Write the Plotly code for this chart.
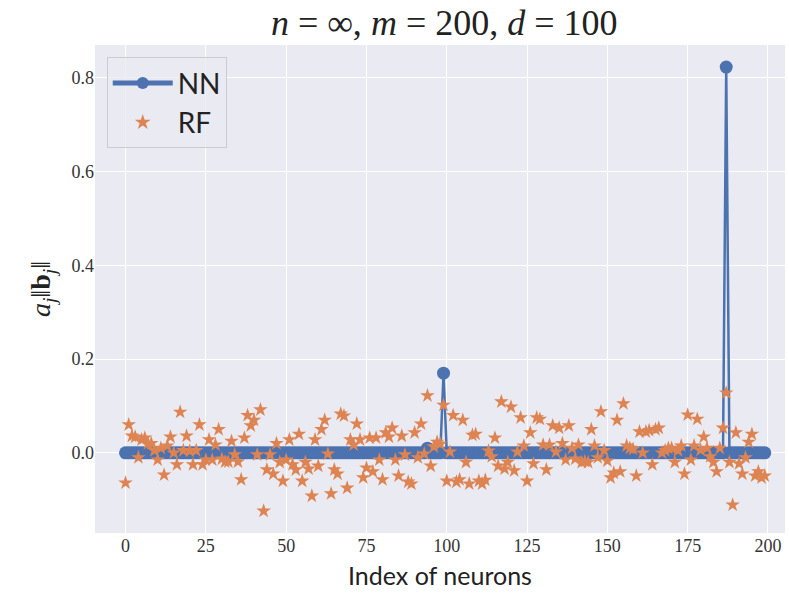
import plotly.graph_objects as go

idx = list(range(200))

nn_vals = [0.0] * 200
nn_vals[94] = 0.010
nn_vals[99] = 0.170
nn_vals[187] = 0.823

rf_vals = [
    -0.064, 0.060, 0.036, 0.034, -0.010, 0.028, 0.032, 0.020, 0.020, 0.005,
    -0.015, 0.010, -0.047, 0.015, 0.034, 0.000, -0.025, 0.087, 0.005, 0.036,
    0.004, -0.025, 0.005, 0.060, -0.025, -0.015, 0.028, -0.015, 0.017, 0.050,
    -0.013, -0.019, -0.019, 0.025, -0.004, -0.019, -0.057, 0.032, 0.080, 0.058,
    0.070, -0.004, 0.092, -0.124, -0.036, -0.004, -0.045, 0.020, -0.020, -0.060,
    -0.015, 0.028, -0.025, -0.036, 0.040, -0.060, -0.020, -0.034, -0.092, 0.028,
    -0.028, 0.050, 0.070, -0.002, -0.087, -0.036, -0.045, 0.083, 0.079, -0.075,
    0.028, 0.017, 0.062, 0.028, -0.053, -0.032, 0.032, -0.040, 0.032, -0.015,
    -0.057, 0.043, 0.034, 0.053, -0.015, -0.049, 0.036, -0.004, -0.062, -0.066,
    0.043, -0.010, 0.062, -0.002, 0.122, -0.028, 0.013, 0.023, 0.019, 0.102,
    -0.060, 0.002, 0.080, -0.062, -0.057, 0.070, -0.020, -0.066, 0.038, 0.040,
    -0.060, -0.066, -0.058, 0.004, -0.008, 0.032, -0.028, 0.109, -0.034, -0.020,
    0.098, -0.038, 0.002, 0.075, 0.015, -0.060, 0.043, -0.023, 0.075, 0.072,
    0.017, -0.036, 0.017, 0.058, 0.002, 0.053, 0.020, -0.015, 0.058, 0.010,
    -0.013, 0.017, -0.020, -0.018, -0.020, 0.050, 0.015, -0.010, 0.088, 0.005,
    -0.017, -0.053, -0.043, 0.070, -0.040, 0.105, 0.015, 0.010, 0.008, -0.049,
    0.045, 0.000, 0.045, 0.048, -0.025, 0.050, 0.053, 0.000, 0.005, 0.010,
    0.010, -0.020, 0.005, 0.015, -0.045, 0.081, -0.015, 0.015, 0.072, 0.006,
    0.034, 0.010, -0.008, -0.020, -0.040, 0.010, 0.053, 0.128, -0.020, -0.111,
    0.043, -0.023, -0.045, -0.010, 0.023, 0.040, -0.049, -0.040, -0.053, -0.049,
]

x_ticks = [0, 25, 50, 75, 100, 125, 150, 175, 200]
y_ticks = [0.0, 0.2, 0.4, 0.6, 0.8]
y_tick_text = ["0.0", "0.2", "0.4", "0.6", "0.8"]

BLUE = "#4C72B0"
ORANGE = "#DD8452"
SERIF = "Liberation Serif, DejaVu Serif, serif"
SANS = "Lato, DejaVu Sans, sans-serif"

fig = go.Figure()
fig.add_trace(go.Scatter(
    x=idx, y=nn_vals, mode="lines+markers", name="NN",
    line=dict(color=BLUE, width=2.5),
    marker=dict(symbol="circle", size=13, color=BLUE),
))
fig.add_trace(go.Scatter(
    x=idx, y=rf_vals, mode="markers", name="RF",
    marker=dict(symbol="star", size=11, color=ORANGE, line=dict(width=0)),
))

fig.update_layout(
    width=789, height=597,
    margin=dict(l=95, r=4, t=45, b=64),
    paper_bgcolor="white",
    plot_bgcolor="#EAEAF2",
    title=dict(
        text="<i>n</i> = ∞, <i>m</i> = 200, <i>d</i> = 100",
        x=0.563, xanchor="center", y=0.962, yanchor="middle",
        font=dict(family=SERIF, size=36, color="#222"),
    ),
    xaxis=dict(
        range=[-9.5, 205.3], tickvals=x_ticks,
        showgrid=True, gridcolor="white", gridwidth=1.3,
        zeroline=False, showline=False, ticks="",
        tickfont=dict(family=SERIF, size=18, color="#333"),
        title=dict(text="Index of neurons", font=dict(family=SANS, size=25, color="#222"), standoff=12),
    ),
    yaxis=dict(
        range=[-0.171, 0.870], tickvals=y_ticks, ticktext=y_tick_text,
        showgrid=True, gridcolor="white", gridwidth=1.3,
        zeroline=False, showline=False, ticks="",
        tickfont=dict(family=SERIF, size=18, color="#333"),
        title=dict(text="<i>a<sub>j</sub></i>‖<b>b</b><sub><i>j</i></sub>‖",
                   font=dict(family=SERIF, size=28, color="#222"), standoff=12),
    ),
    legend=dict(
        x=0.017, y=0.975, xanchor="left", yanchor="top",
        bgcolor="rgba(234,234,242,0.8)", bordercolor="#CCCCCC", borderwidth=1,
        font=dict(family=SANS, size=28, color="#222"),
        itemsizing="constant", itemwidth=60, tracegroupgap=4,
    ),
    showlegend=True,
)

fig.write_html("out.html")
